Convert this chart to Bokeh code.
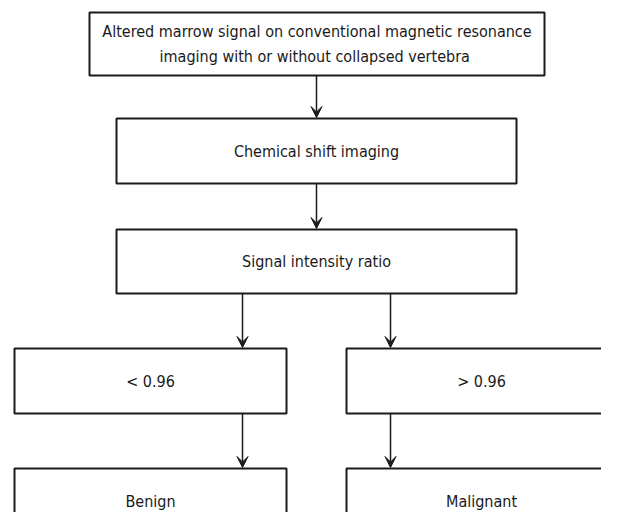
from bokeh.plotting import figure
from bokeh.models import Range1d, Arrow, VeeHead, ColumnDataSource
from bokeh.core.properties import value
from bokeh.embed import file_html
from bokeh.resources import INLINE

# ---- data: flowchart nodes and edges ----
node_ids = ["mri", "csi", "sir", "low", "high", "benign", "malignant"]
node_labels = [
    "Altered marrow signal on conventional magnetic resonance\nimaging with  or without collapsed vertebra",
    "Chemical shift imaging",
    "Signal intensity ratio",
    "< 0.96",
    "> 0.96",
    "Benign",
    "Malignant",
]
edges_from = ["mri", "csi", "sir", "sir", "low", "high"]
edges_to = ["csi", "sir", "low", "high", "benign", "malignant"]

# ---- layout (reference pixel coordinates: left, right, top, bottom) ----
layout = {
    "mri": (89, 544, 12, 75),
    "csi": (116, 516, 118, 183),
    "sir": (116, 516, 229, 293),
    "low": (14, 286, 348, 413),
    "high": (346, 616, 348, 413),
    "benign": (14, 286, 468, 534),
    "malignant": (346, 616, 468, 534),
}
arrow_x = {("sir", "low"): 242, ("sir", "high"): 390,
           ("low", "benign"): 242, ("high", "malignant"): 390}

INK = "#1a1a1a"
FONT = "DejaVu Sans Condensed"

W, H = 601, 512
p = figure(width=W, height=H, output_backend="svg", toolbar_location=None,
           x_range=Range1d(0, W), y_range=Range1d(H, 0),
           min_border=0)
p.axis.visible = False
p.grid.visible = False
p.outline_line_color = None
p.background_fill_color = "white"
p.border_fill_color = "white"

left = [layout[n][0] for n in node_ids]
right = [layout[n][1] for n in node_ids]
top = [layout[n][2] for n in node_ids]
bottom = [layout[n][3] for n in node_ids]
src = ColumnDataSource(dict(left=left, right=right, top=top, bottom=bottom,
                            cx=[(l + r) / 2 for l, r in zip(left, right)],
                            cy=[(t + b) / 2 for t, b in zip(top, bottom)],
                            label=node_labels))

p.quad(left="left", right="right", top="top", bottom="bottom", source=src,
       fill_color="white", line_color=INK, line_width=2)

p.text(x="cx", y="cy", text="label", source=src,
       text_font=value(FONT), text_font_size="16px", text_color=INK,
       text_align="center", text_baseline="middle", text_line_height=1.35)

for a, b in zip(edges_from, edges_to):
    la = layout[a]
    lb = layout[b]
    x = arrow_x.get((a, b), (lb[0] + lb[1]) / 2)
    p.add_layout(Arrow(x_start=x, y_start=la[3], x_end=x, y_end=lb[2] - 1,
                       line_color=INK, line_width=1.5,
                       end=VeeHead(size=11, fill_color=INK, line_color=INK,
                                   line_width=1)))

open("out.html", "w").write(file_html(p, INLINE))
